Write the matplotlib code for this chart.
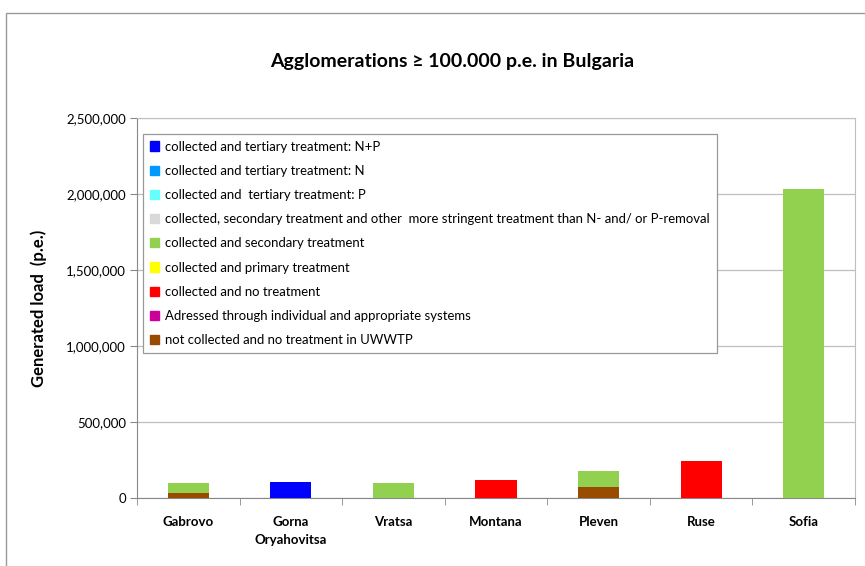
import matplotlib.pyplot as plt
import matplotlib.patches as mpatches
import numpy as np

plt.rcParams['font.family'] = ['Lato', 'DejaVu Sans']

# Agglomerations and generated load per treatment type (p.e.)
cities = ['Gabrovo', 'Gorna\nOryahovitsa', 'Vratsa', 'Montana', 'Pleven', 'Ruse', 'Sofia']

not_collected = [31000, 0, 0, 0, 74000, 0, 0]
individual = [0, 0, 0, 0, 0, 0, 0]
no_treatment = [0, 0, 0, 120000, 0, 241000, 0]
primary = [0, 0, 0, 0, 0, 0, 0]
secondary = [65000, 0, 99000, 0, 104000, 0, 2034000]
more_stringent = [0, 0, 0, 0, 0, 0, 0]
tertiary_p = [0, 0, 0, 0, 0, 0, 0]
tertiary_n = [0, 0, 0, 0, 0, 0, 0]
tertiary_np = [0, 103000, 0, 0, 0, 0, 0]

# bottom to top
series = [
    ('not collected and no treatment in UWWTP', not_collected, '#994C00'),
    ('Adressed through individual and appropriate systems', individual, '#CC0099'),
    ('collected and no treatment', no_treatment, '#FF0000'),
    ('collected and primary treatment', primary, '#FFFF00'),
    ('collected and secondary treatment', secondary, '#92D050'),
    ('collected, secondary treatment and other  more stringent treatment than N- and/ or P-removal',
     more_stringent, '#D9D9D9'),
    ('collected and  tertiary treatment: P', tertiary_p, '#66FFFF'),
    ('collected and tertiary treatment: N', tertiary_n, '#0099FF'),
    ('collected and tertiary treatment: N+P', tertiary_np, '#0000FF'),
]

fig = plt.figure(figsize=(8.65, 5.66), dpi=100)
ax = fig.add_axes([137 / 865, 1 - 498 / 566, (855 - 137) / 865, (498 - 118) / 566])

x = np.arange(len(cities))
bottom = np.zeros(len(cities))
handles = []
for label, vals, color in series:
    vals = np.array(vals, dtype=float)
    ax.bar(x, vals, 0.4, bottom=bottom, color=color, zorder=3)
    handles.append(mpatches.Patch(color=color, label=label))
    bottom += vals

ax.set_xlim(-0.5, len(cities) - 0.5)
ax.set_ylim(0, 2500000)
ax.set_yticks(np.arange(0, 2500001, 500000))
ax.yaxis.set_major_formatter(plt.FuncFormatter(lambda v, p: f'{int(v):,}'))
ax.grid(axis='y', color='#BFBFBF', linewidth=0.9, zorder=0)

ax.set_xticks(x)
ax.set_xticklabels(cities, fontweight='bold', fontsize=9.5, linespacing=1.6)
ax.set_xticks(np.arange(-0.5, len(cities)), minor=True)
ax.tick_params(axis='x', which='major', length=0, pad=13)
ax.tick_params(axis='x', which='minor', length=5, color='#888888')
ax.tick_params(axis='y', length=5, color='#888888', labelsize=9.5, pad=3)

for s in ['left', 'bottom']:
    ax.spines[s].set_color('#888888')
for s in ['right', 'top']:
    ax.spines[s].set_color('#BFBFBF')

ax.set_ylabel('Generated load  (p.e.)', fontweight='bold', fontsize=12, labelpad=14)

fig.text(452 / 865, 1 - 62 / 566, 'Agglomerations ≥ 100.000 p.e. in Bulgaria',
         ha='center', va='center', fontsize=14, fontweight='bold')

leg = ax.legend(handles=handles[::-1], loc='upper left',
                bbox_to_anchor=((143 - 137) / 718, (498 - 134) / 380),
                fontsize=9.45, handlelength=0.7, handleheight=0.7, handletextpad=0.5,
                labelspacing=0.93, borderpad=0.5, fancybox=False, framealpha=1,
                edgecolor='#999999', borderaxespad=0)
leg.get_frame().set_linewidth(0.9)
leg.set_zorder(5)

# outer chart frame (left and top edges visible)
fig.patches.append(mpatches.Rectangle((6 / 865, -0.1), 2, 1 - 13 / 566 + 0.1,
                                      transform=fig.transFigure, fill=False,
                                      edgecolor='#999999', linewidth=1))

fig.savefig('out.png', dpi=100)
